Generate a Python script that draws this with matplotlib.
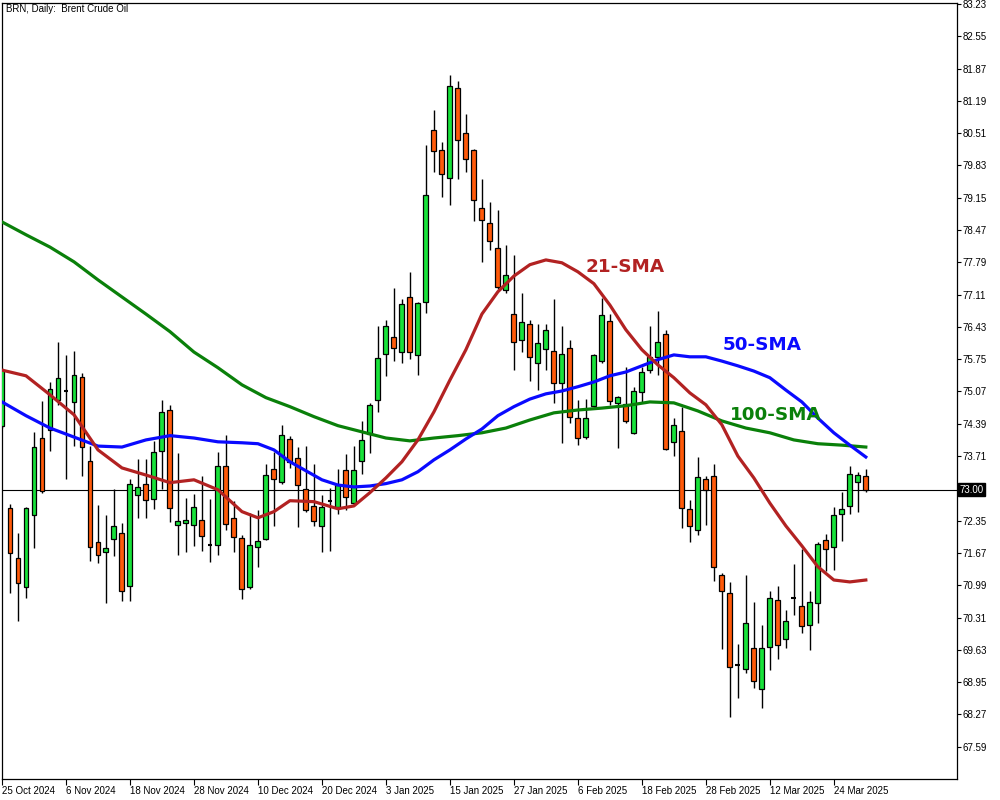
import numpy as np
import matplotlib
matplotlib.use("Agg")
import matplotlib.pyplot as plt

plt.rcParams['font.family'] = ['Liberation Sans', 'DejaVu Sans']

title = "BRN, Daily:  Brent Crude Oil"
date_labels = ['25 Oct 2024', '6 Nov 2024', '18 Nov 2024', '28 Nov 2024', '10 Dec 2024',
               '20 Dec 2024', '3 Jan 2025', '15 Jan 2025', '27 Jan 2025', '6 Feb 2025',
               '18 Feb 2025', '28 Feb 2025', '12 Mar 2025', '24 Mar 2025']
price_ticks = [83.23, 82.55, 81.87, 81.19, 80.51, 79.83, 79.15, 78.47, 77.79, 77.11, 76.43,
               75.75, 75.07, 74.39, 73.71, 72.35, 71.67, 70.99, 70.31, 69.63, 68.95, 68.27, 67.59]
last_price = 73.00

# daily OHLC, one entry per bar
opens = [74.34, 72.62, 71.57, 70.95, 72.47, 74.09, 74.26, 74.89, 75.08, 74.85,
         75.37, 73.61, 71.91, 71.70, 71.97, 72.10, 70.97, 72.89, 73.13, 72.81,
         73.82, 74.68, 72.26, 72.31, 72.26, 72.37, 71.84, 71.84, 73.50, 72.41,
         71.99, 70.95, 71.80, 71.97, 73.44, 73.17, 74.07, 73.67, 73.02, 72.66,
         72.24, 72.77, 72.64, 73.42, 72.73, 73.61, 74.18, 74.89, 75.86, 76.22,
         75.90, 77.06, 75.84, 76.96, 80.58, 80.16, 79.57, 81.46, 80.51, 80.16,
         78.93, 78.62, 78.09, 77.21, 76.70, 76.16, 76.49, 75.67, 75.97, 75.92,
         75.25, 75.99, 74.51, 74.11, 74.76, 75.71, 76.56, 74.83, 74.81, 74.20,
         75.06, 75.52, 75.80, 76.28, 74.01, 74.24, 72.60, 72.16, 73.23, 73.29,
         71.21, 70.83, 69.31, 69.23, 69.67, 68.81, 69.69, 70.68, 69.86, 70.72,
         70.56, 70.16, 70.62, 71.95, 71.80, 72.49, 72.66, 73.17, 73.29]
highs = [75.57, 72.71, 72.10, 72.64, 74.22, 74.87, 75.27, 76.12, 75.84, 75.93,
         75.46, 73.92, 72.68, 72.47, 73.02, 72.31, 73.23, 73.65, 73.65, 74.03,
         74.89, 74.78, 73.78, 72.83, 72.92, 73.29, 72.81, 73.80, 74.16, 72.77,
         72.05, 72.51, 72.58, 73.55, 73.80, 74.37, 74.14, 73.90, 73.92, 73.55,
         72.89, 73.04, 73.44, 73.76, 73.92, 74.45, 74.83, 76.45, 76.58, 77.25,
         77.02, 77.59, 76.96, 80.26, 80.99, 80.32, 81.74, 81.61, 80.91, 80.18,
         79.55, 79.06, 78.89, 78.16, 77.95, 77.15, 76.58, 76.49, 76.49, 77.02,
         76.45, 76.16, 74.89, 74.91, 75.86, 77.04, 76.70, 74.98, 75.59, 75.17,
         75.59, 76.45, 76.77, 76.37, 74.51, 74.74, 72.79, 73.69, 73.29, 73.55,
         71.25, 71.06, 69.76, 71.21, 70.64, 70.16, 70.87, 70.98, 70.47, 71.44,
         71.76, 70.87, 71.91, 72.07, 72.64, 72.96, 73.50, 73.38, 73.44]
lows = [74.30, 70.83, 70.24, 70.72, 71.78, 72.94, 73.82, 74.78, 73.23, 73.92,
        73.29, 71.49, 71.45, 70.62, 71.61, 70.66, 70.66, 72.41, 72.41, 72.60,
        73.02, 72.33, 71.63, 71.70, 71.82, 71.72, 71.47, 71.63, 72.16, 71.70,
        70.70, 70.91, 71.38, 71.95, 72.24, 73.13, 73.46, 72.22, 72.54, 72.24,
        71.70, 71.72, 72.49, 72.58, 72.68, 73.34, 73.78, 74.64, 75.40, 75.71,
        75.67, 75.76, 75.42, 76.72, 79.69, 79.17, 78.99, 79.55, 79.69, 78.66,
        77.80, 78.05, 77.23, 77.15, 75.52, 75.90, 75.29, 75.10, 75.52, 74.83,
        73.99, 74.41, 73.94, 74.07, 74.74, 75.67, 74.78, 73.88, 74.41, 74.18,
        74.85, 75.46, 75.42, 73.84, 73.71, 72.20, 71.91, 72.05, 72.26, 71.08,
        69.65, 68.22, 68.62, 69.15, 68.83, 68.41, 69.21, 69.44, 69.67, 70.37,
        69.99, 69.63, 70.20, 71.29, 71.31, 71.93, 72.49, 72.54, 72.96]
closes = [75.52, 71.66, 71.04, 72.62, 73.90, 72.98, 75.12, 75.35, 75.09, 75.41,
          73.90, 71.80, 71.63, 71.78, 72.24, 70.87, 73.13, 73.06, 72.79, 73.80,
          74.64, 72.62, 72.35, 72.37, 72.64, 72.03, 71.83, 73.50, 72.28, 72.01,
          70.91, 71.84, 71.93, 73.32, 73.23, 74.16, 73.59, 73.11, 72.58, 72.35,
          72.64, 72.78, 73.11, 72.85, 73.42, 74.05, 74.78, 75.78, 76.45, 75.99,
          76.91, 75.90, 76.93, 79.21, 80.14, 79.65, 81.50, 80.37, 79.97, 79.10,
          78.68, 78.24, 77.27, 77.52, 76.11, 76.54, 75.80, 76.09, 76.37, 75.25,
          75.86, 74.54, 74.09, 74.51, 75.84, 76.68, 74.87, 74.96, 74.45, 75.08,
          75.48, 75.80, 76.11, 73.86, 74.37, 72.62, 72.24, 73.27, 73.00, 71.38,
          70.87, 69.27, 69.30, 70.20, 68.98, 69.67, 70.72, 69.74, 70.24, 70.73,
          70.14, 70.64, 71.86, 71.76, 72.47, 72.60, 73.34, 73.32, 73.00]

# moving averages (bar index, value)
sma21_bars = [0, 3, 6, 9, 12, 15, 18, 21, 24, 27, 30, 32, 34, 36, 39, 42] + list(range(44, 109, 2))
sma21 = [75.52, 75.40, 75.00, 74.58, 73.84, 73.46, 73.31, 73.15, 73.21, 73.00, 72.54,
         72.41, 72.54, 72.77, 72.75, 72.60,
         72.66, 72.94, 73.25, 73.59, 74.05, 74.64, 75.31, 75.95, 76.70, 77.17, 77.50,
         77.74, 77.84, 77.78, 77.59, 77.34, 76.89, 76.37, 75.95, 75.63, 75.36, 75.04,
         74.79, 74.37, 73.71, 73.25, 72.72, 72.24, 71.82, 71.38, 71.10, 71.06, 71.10]
sma50_bars = [0, 3, 6, 9, 12, 15, 18, 21, 24, 27, 30] + list(range(32, 109, 2))
sma50 = [74.85, 74.56, 74.30, 74.11, 73.92, 73.90, 74.05, 74.14, 74.09, 74.01, 73.99,
         73.97, 73.84, 73.59, 73.40, 73.21, 73.10, 73.06, 73.08, 73.13, 73.21,
         73.38, 73.63, 73.84, 74.07, 74.28, 74.56, 74.75, 74.91, 75.02, 75.08,
         75.17, 75.27, 75.40, 75.48, 75.61, 75.74, 75.84, 75.80, 75.80, 75.71,
         75.61, 75.50, 75.36, 75.10, 74.85, 74.51, 74.20, 73.94, 73.69]
sma100_bars = list(range(0, 109, 3))
sma100 = [78.64, 78.37, 78.11, 77.80, 77.42, 77.06, 76.70, 76.33, 75.90, 75.57,
          75.21, 74.94, 74.75, 74.54, 74.35, 74.22, 74.09, 74.03, 74.09, 74.14,
          74.20, 74.30, 74.47, 74.62, 74.68, 74.72, 74.77, 74.85, 74.83, 74.66,
          74.45, 74.30, 74.20, 74.05, 73.97, 73.94, 73.90]

fig = plt.figure(figsize=(10, 8), dpi=100, facecolor='white')
ax = fig.add_axes([0.002, 21 / 800, 0.955, 776 / 800])

o, h, l, c = (np.array(a) for a in (opens, highs, lows, closes))
x = np.arange(len(o))
up = c > o + 0.02
down = c < o - 0.02
doji = ~(up | down)

ax.axhline(last_price, color='black', lw=0.8, zorder=1)
ax.vlines(x, l, h, color='black', lw=1.0, zorder=2)
ax.bar(x[up], (c - o)[up], bottom=o[up], width=0.62, color='#18e23a',
       edgecolor='black', linewidth=0.9, zorder=3)
ax.bar(x[down], (o - c)[down], bottom=c[down], width=0.62, color='#ff5a0a',
       edgecolor='black', linewidth=0.9, zorder=3)
ax.hlines(o[doji], x[doji] - 0.3, x[doji] + 0.3, color='black', lw=1.5, zorder=3)

ax.plot(sma100_bars, sma100, color='#0a800a', lw=2.3, zorder=4)
ax.plot(sma50_bars, sma50, color='#0a0aff', lw=2.3, zorder=4)
ax.plot(sma21_bars, sma21, color='#b22222', lw=2.3, zorder=4)

ax.text(77.9, 77.59, '21-SMA', color='#b22222', fontsize=13.2, fontweight='bold',
        family='DejaVu Sans', ha='center', va='baseline', zorder=5)
ax.text(95.0, 75.95, '50-SMA', color='#0a0aff', fontsize=13.2, fontweight='bold',
        family='DejaVu Sans', ha='center', va='baseline', zorder=5)
ax.text(96.8, 74.47, '100-SMA', color='#0a800a', fontsize=13.2, fontweight='bold',
        family='DejaVu Sans', ha='center', va='baseline', zorder=5)

ax.set_xlim(0, 119.4)
ax.set_ylim(66.91, 83.25)

for s in ax.spines.values():
    s.set_color('black')
    s.set_linewidth(0.9)

ax.yaxis.tick_right()
ax.set_yticks(price_ticks)
ax.set_yticklabels([f'{v:.2f}' for v in price_ticks])
ax.tick_params(axis='y', direction='out', length=3, width=0.8, labelsize=7, pad=1)

ax.set_xticks(range(0, 8 * len(date_labels), 8))
ax.set_xticklabels(date_labels)
for lab in ax.get_xticklabels():
    lab.set_horizontalalignment('left')
ax.tick_params(axis='x', direction='out', length=4, width=0.8, labelsize=7, pad=1)

ax.text(1.003, last_price, f'{last_price:.2f}', transform=ax.get_yaxis_transform(),
        color='white', fontsize=7, va='center', ha='left',
        bbox=dict(boxstyle='square,pad=0.15', facecolor='black', edgecolor='black'))

fig.text(0.006, 0.995, title, fontsize=7, va='top', ha='left')

fig.savefig('out.png', dpi=100)
